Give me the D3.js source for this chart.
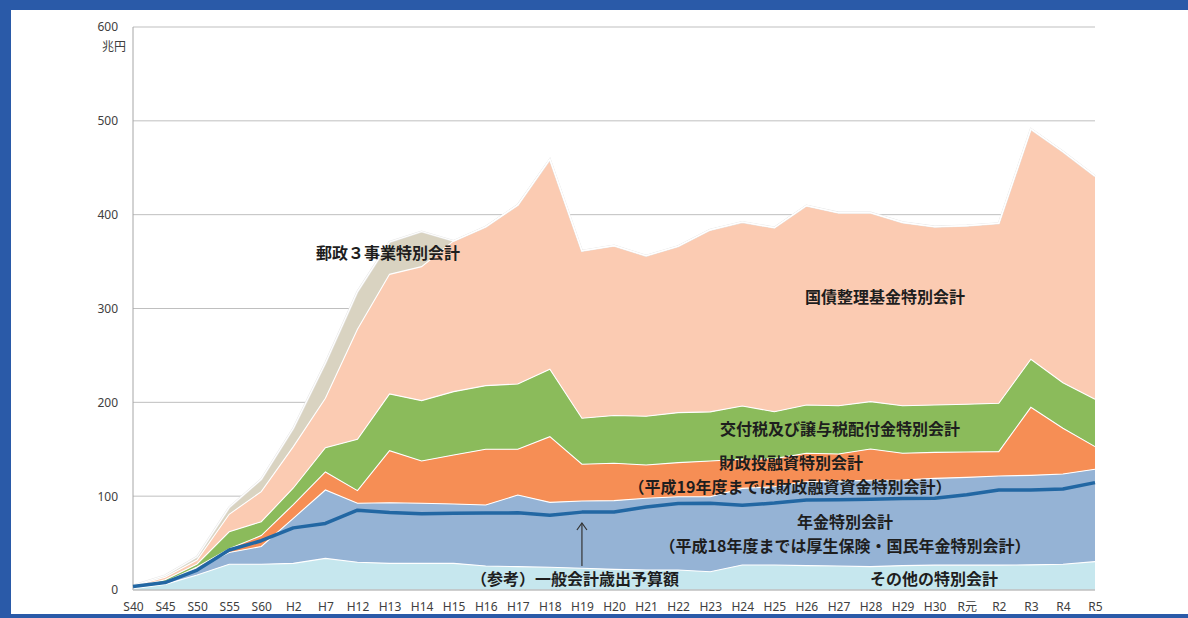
<!DOCTYPE html>
<html><head><meta charset="utf-8">
<script src="https://cdn.jsdelivr.net/npm/d3@7"></script>
<style>body{margin:0;background:#fff} svg{display:block}</style>
</head><body><svg id="c" width="1188" height="618"></svg>
<script>
const categories = ["S40","S45","S50","S55","S60","H2","H7","H12","H13","H14","H15","H16","H17","H18","H19","H20","H21","H22","H23","H24","H25","H26","H27","H28","H29","H30","R元","R2","R3","R4","R5"];
// 兆円
const otherAccounts = [1.5,6,16,27.4,27.4,28.4,33.7,29.5,28.4,28.4,28.4,25.6,24.9,24.2,23.1,22,21.3,21.3,19.5,26.6,26.6,26,25.6,24.9,26,26.5,26.5,26.5,26.8,27.5,30.2];
const pension = [0.8,2,7.5,12.6,19,48,72.9,62.9,64.6,64,63.3,65,76.3,69.2,71.8,73.2,76.4,78.1,79.9,81.7,83.4,89.4,90.4,92.1,91.2,92.5,93.5,95,95.4,96.1,98.4];
const fiscalLoan = [0.3,0.5,1,4,11.6,14.6,19.2,13.5,55.5,45.1,52.2,59.4,48.8,70,39.1,39.8,35.5,36.3,38.1,31,30,30.3,29,33.3,28.5,27.7,27,26,72.5,48.7,24.2];
const localAllocation = [0.5,2.5,3.2,18,14.8,17.7,25.9,54.7,60.4,64.3,67.5,67.8,69.5,71.8,49,51,52,53.3,52.3,56.8,50,51.5,51.4,50.4,50.7,50.5,50.9,51.5,51.2,48.6,50.4];
const debtConsolidation = [0.8,2.5,4.3,18.7,32,44.1,52.6,117.2,127.5,142.8,160.6,169.4,190.8,223.8,178.5,181,171,177.4,194,196,196.2,212.4,205.7,201.4,195.4,190,190.4,191.8,245.4,246.3,238];
const postal = [0.8,2,3.5,7.3,13.2,19.5,37.7,40.2,34.6,37.4,0,0,0,0,0,0,0,0,0,0,0,0,0,0,0,0,0,0,0,0,0];
const generalBudget = [3.7,7.9,21.3,42.6,52.5,66.2,70.9,85.0,82.7,81.2,81.8,82.1,82.2,79.7,83.0,83.1,88.5,92.3,92.4,90.3,92.6,95.9,96.3,96.7,97.5,97.7,101.5,106.5,106.6,107.6,114.4];
const yTickValues = [0,100,200,300,400,500,600];
const seriesKeys = ["other","pension","fiscal","local","debt","postal"];
const seriesColors = ["#c6e7ee","#95b3d5","#f68e55","#8bbb5b","#fbcbb2","#d9d3c1"];

const svg = d3.select("#c");
const W = 1188, H = 618;
const x = d3.scalePoint().domain(categories).range([133, 1095]);
const y = d3.scaleLinear().domain([0, 600]).range([590, 27]);

// frame
svg.append("rect").attr("x",0).attr("y",0).attr("width",W).attr("height",10).attr("fill","#2a5aa8");
svg.append("rect").attr("x",0).attr("y",0).attr("width",11).attr("height",H).attr("fill","#2a5aa8");
svg.append("rect").attr("x",0).attr("y",614).attr("width",W).attr("height",4).attr("fill","#2a5aa8");

// grid
svg.append("g").selectAll("line").data(yTickValues.filter(d=>d>0)).join("line")
  .attr("x1",133).attr("x2",1095).attr("y1",d=>y(d)).attr("y2",d=>y(d))
  .attr("stroke","#bfbfbf").attr("stroke-width",1);

// data table
const table = categories.map((c,i)=>({cat:c, other:otherAccounts[i], pension:pension[i], fiscal:fiscalLoan[i], local:localAllocation[i], debt:debtConsolidation[i], postal:postal[i]}));
const stacked = d3.stack().keys(seriesKeys)(table);
const area = d3.area().x(d=>x(d.data.cat)).y0(d=>y(d[0])).y1(d=>y(d[1]));
const topLine = d3.line().x(d=>x(d.data.cat)).y(d=>y(d[1]));

svg.append("g").selectAll("path").data(stacked).join("path")
  .attr("d",area).attr("fill",(d,i)=>seriesColors[i]);
svg.append("path").datum(stacked[stacked.length-1]).attr("d",topLine)
  .attr("fill","none").attr("stroke","#e8e8e8").attr("stroke-width",2.2);
svg.append("g").selectAll("path").data(stacked).join("path")
  .attr("d",topLine).attr("fill","none").attr("stroke","#ffffff").attr("stroke-width",1.1);

// axes lines
svg.append("line").attr("x1",133).attr("x2",133).attr("y1",27).attr("y2",590).attr("stroke","#a6a6a6");
svg.append("line").attr("x1",133).attr("x2",1095).attr("y1",590).attr("y2",590).attr("stroke","#bfbfbf").attr("stroke-width",1.5);

// general budget line
svg.append("path").datum(generalBudget)
  .attr("d", d3.line().x((d,i)=>x(categories[i])).y(d=>y(d)))
  .attr("fill","none").attr("stroke","#2267a3").attr("stroke-width",3.5).attr("stroke-linejoin","round");

// axes text
const yAxis = svg.append("g").attr("transform","translate(133,0)")
  .call(d3.axisLeft(y).tickValues(yTickValues).tickSize(0).tickPadding(15));
yAxis.select(".domain").remove();
yAxis.selectAll("text").attr("font-family","'Noto Sans', sans-serif").attr("font-size",12).attr("fill","#404040");
svg.append("text").attr("x",126).attr("y",48).attr("text-anchor","end")
  .attr("dominant-baseline","middle").attr("font-family","'Noto Sans CJK JP', sans-serif")
  .attr("font-size",12).attr("fill","#404040").text("兆円");

const xAxis = svg.append("g").attr("transform","translate(0,590)")
  .call(d3.axisBottom(x).tickSize(0).tickPadding(12));
xAxis.select(".domain").remove();
xAxis.selectAll("text").attr("font-family","'Noto Sans','Noto Sans CJK JP', sans-serif").attr("font-size",12).attr("fill","#404040");

// annotations
const labels = [
  {t:"郵政３事業特別会計", x:388, y:252},
  {t:"国債整理基金特別会計", x:885, y:296},
  {t:"交付税及び譲与税配付金特別会計", x:840, y:428},
  {t:"財政投融資特別会計", x:791, y:462},
  {t:"（平成19年度までは財政融資資金特別会計）", x:790, y:486},
  {t:"年金特別会計", x:845, y:521},
  {t:"（平成18年度までは厚生保険・国民年金特別会計）", x:845, y:545},
  {t:"（参考）一般会計歳出予算額", x:575, y:578},
  {t:"その他の特別会計", x:934, y:578}
];
svg.append("g").selectAll("text").data(labels).join("text")
  .attr("x",d=>d.x).attr("y",d=>d.y).attr("text-anchor","middle").attr("dominant-baseline","central")
  .attr("font-family","'Noto Sans CJK JP', sans-serif").attr("font-weight","bold")
  .attr("font-size",16).attr("fill","#1e1e1e").text(d=>d.t);

// arrow
const ax = x("H19");
svg.append("line").attr("x1",ax).attr("x2",ax).attr("y1",566).attr("y2",523).attr("stroke","#333").attr("stroke-width",1.2);
svg.append("path").attr("d",`M${ax-5},${530} L${ax},${523} L${ax+5},${530}`).attr("fill","none").attr("stroke","#333").attr("stroke-width",1.2);
</script></body></html>
